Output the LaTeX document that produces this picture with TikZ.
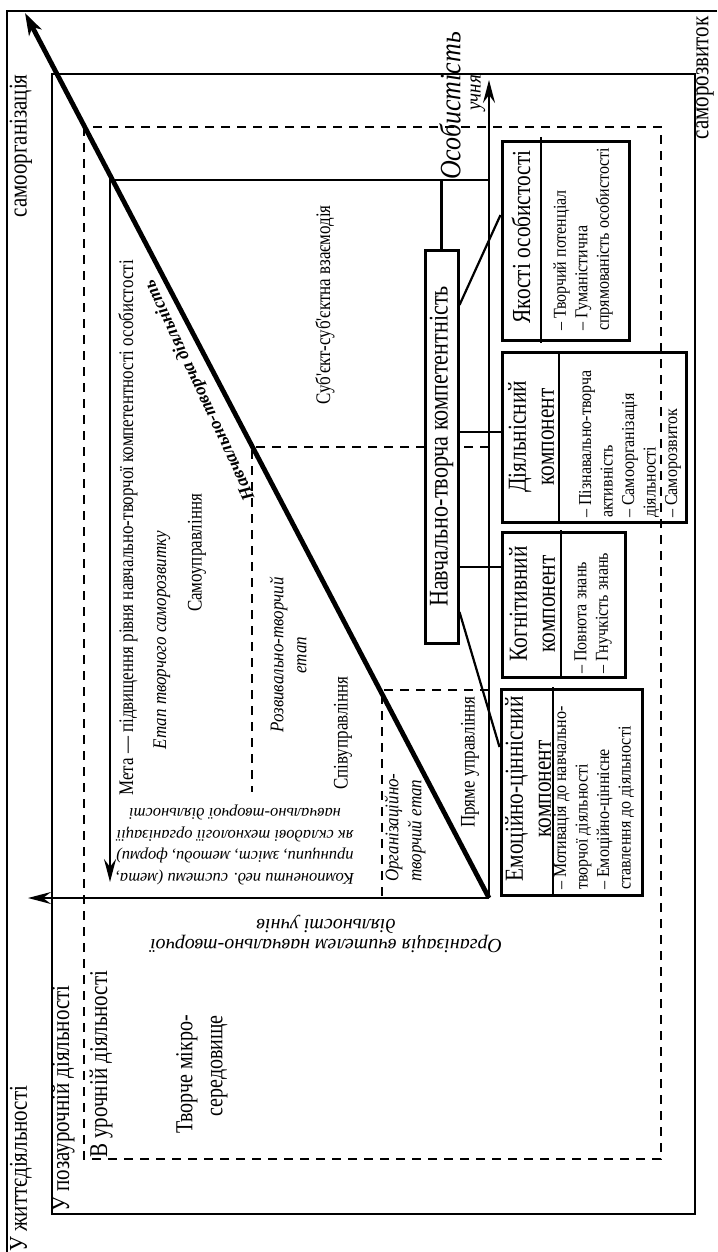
\documentclass[tikz,border=0pt]{standalone}
\usepackage{fontspec}
\setmainfont{Liberation Serif}
\newfontfamily\cnd[FakeStretch=0.82]{Liberation Serif}
\newfontfamily\cndb[FakeStretch=0.88]{Liberation Serif}
\usetikzlibrary{arrows.meta,calc}
\begin{document}
\begin{tikzpicture}[x=1pt,y=-1pt,
 frameline/.style={line width=2.6pt},
 dashframe/.style={line width=2.5pt,dash pattern=on 9pt off 7pt},
 conn/.style={line width=2.2pt},
 dconn/.style={line width=2.3pt,dash pattern=on 9pt off 7pt},
 axtip/.style={-{Stealth[length=23pt,width=12pt,inset=8pt]}},
 compbox/.style={draw,line width=3pt,inner sep=0pt},
 divline/.style={line width=2.6pt},
 txt/.style={inner sep=0pt},
 bigf/.style={txt,font=\cnd\fontsize{25.6}{30}\selectfont},
 midf/.style={txt,font=\cnd\fontsize{20.7}{24}\selectfont},
 itf/.style={txt,font=\cndb\fontsize{19.3}{23}\selectfont\itshape},
 ttlf/.style={txt,font=\cnd\fontsize{26}{28}\selectfont,align=center},
 lstf/.style={txt,font=\cndb\fontsize{18.2}{21.5}\selectfont,align=left},
]
\useasboundingbox (0,0) rectangle (717,1252);
% frames
\draw[frameline] (717,11) -- (7,11) -- (7,1252);
\draw[frameline] (52,74) rectangle (695,1214);
\draw[dashframe] (84,127) rectangle (661,1159);
% coordinates
\coordinate (O) at (489,898);
\coordinate (Ytop) at (489,80);
\coordinate (Xend) at (28,898);
\coordinate (Dtop) at (25,13);
\coordinate (M1) at (489,180);
\coordinate (M2) at (110,180);
\coordinate (M3) at (110,882);
\coordinate (S1) at (489,447);
\coordinate (S2) at (252,447);
\coordinate (S3) at (252,792);
\coordinate (R1) at (489,690);
\coordinate (R2) at (382,690);
\coordinate (R3) at (382,897);
\draw[dconn] (S1) -- (S2) -- (S3);
\draw[dconn] (R1) -- (R2) -- (R3);
\draw[conn,axtip] (M1) -- (M2) -- (M3);
\draw[conn,axtip] (O) -- (Ytop);
\draw[conn,axtip] (O) -- (Xend);
\draw[line width=4.8pt,-{Stealth[length=22pt,width=14pt,inset=6pt]}] (O) -- (Dtop);
% main box
\node[compbox,fill=white,minimum width=33pt,minimum height=393pt] (ntk) at (441.5,446.5) {};
\node[txt,rotate=90,font=\cnd\fontsize{27}{30}\selectfont] at (ntk.center) {Навчально-творча компетентність};
% component boxes
\node[compbox,minimum width=127pt,minimum height=198pt] (yak) at (565.5,241) {};
\node[compbox,minimum width=184pt,minimum height=170pt] (dia) at (594,437) {};
\node[compbox,minimum width=123pt,minimum height=145pt] (kog) at (563.5,604.5) {};
\node[compbox,minimum width=141pt,minimum height=206pt] (emo) at (571.5,792) {};
\draw[divline] (541,137) -- (541,343);
\draw[divline] (559,352) -- (559,522);
\draw[divline] (561,530) -- (561,677);
\draw[divline] (553,687) -- (553,895);
\node[ttlf,rotate=90] at (521,237) {Якості особистості};
\node[ttlf,rotate=90] at (531,437) {Діяльнісний\\компонент};
\node[ttlf,rotate=90] at (532,604) {Когнітивний\\компонент};
\node[ttlf,rotate=90] at (528,789) {Емоційно-ціннісний\\компонент};
\node[lstf,rotate=90,anchor=west] at (583,331) {– Творчий потенціал\\– Гуманістична\\спрямованість особистості};
\node[lstf,rotate=90,anchor=west] at (630,518) {– Пізнавально-творча\\активність\\– Самоорганізація\\діяльності\\– Саморозвиток};
\node[lstf,rotate=90,anchor=west] at (593,674) {– Повнота знань\\– Гнучкість знань};
\node[lstf,rotate=90,anchor=west] at (594,890) {– Мотивація до навчально-\\творчої діяльності\\– Емоційно-ціннісне\\ставлення до діяльності};
% connectors
\coordinate (c1a) at (0,305);
\coordinate (c1b) at (0,215);
\coordinate (c2) at (0,432);
\coordinate (c3) at (0,567);
\coordinate (c4a) at (0,612);
\coordinate (c4b) at (0,747);
\draw[conn] (ntk.east |- c1a) -- (yak.west |- c1b);
\draw[conn] (ntk.east |- c2) -- (dia.west |- c2);
\draw[conn] (ntk.east |- c3) -- (kog.west |- c3);
\draw[conn] (ntk.east |- c4a) -- (emo.west |- c4b);
\draw[conn] (ntk.north) -- (ntk.north |- M1);
% labels
\node[bigf,rotate=90] at (21,146) {самоорганізація};
\node[bigf,rotate=90] at (705,78) {саморозвиток};
\node[bigf,rotate=90,anchor=west] at (21,1252) {У життєдіяльності};
\node[bigf,rotate=90,anchor=west] at (63,1212) {У позаурочній діяльності};
\node[bigf,rotate=90,anchor=west] at (101,1158) {В урочній діяльності};
\node[txt,rotate=90,align=right,anchor=east,font=\cnd\fontsize{24.4}{30}\selectfont] at (202,1015) {Творче мікро-\\середовище};
\node[midf,rotate=90] at (128,528) {Мета — підвищення рівня навчально-творчої компетентності особистості};
\node[midf,rotate=90] at (325,305) {Суб'єкт-суб'єктна взаємодія};
\node[itf,rotate=90] at (162,640) {Етап творчого саморозвитку};
\node[midf,rotate=90] at (197,553) {Самоуправління};
\node[itf,rotate=90,align=center] at (288,655) {Розвивально-творчий\\етап};
\node[midf,rotate=90] at (343,733) {Співуправління};
\node[itf,rotate=90,align=left,anchor=west] at (405,882) {Організаційно-\\творчий етап};
\node[midf,rotate=90] at (470,762) {Пряме управління};
\node[txt,rotate=180,align=center,font=\fontsize{16.5}{21.5}\selectfont\itshape] at (235,845) {Компоненти пед. системи (мета,\\принципи, зміст, методи, форми)\\як складові технології організації\\навчально-творчої діяльності};
\node[txt,rotate=180,align=center,font=\fontsize{20}{18}\selectfont\itshape] at (326,934) {Організація вчителем навчально-творчої\\діяльності учнів};
\node[txt,rotate=90,font=\cndb\fontsize{29.5}{30}\selectfont\itshape] at (450,106) {Особистість};
\node[txt,rotate=90,font=\cndb\fontsize{21.5}{22}\selectfont\itshape] at (478,93) {учня};
\node[txt,rotate=115,font=\fontsize{18}{20}\selectfont\bfseries\itshape] at (200,390) {Навчально-творча діяльність};
\end{tikzpicture}
\end{document}
